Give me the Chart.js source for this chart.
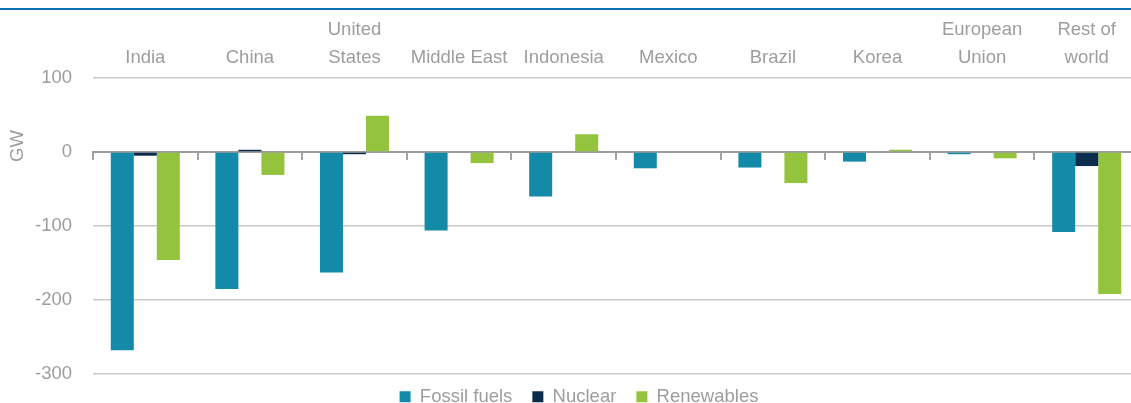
<!DOCTYPE html>
<html>
<head>
<meta charset="utf-8">
<script src="https://cdn.jsdelivr.net/npm/chart.js@4/dist/chart.umd.min.js"></script>
<style>
  html, body { margin: 0; padding: 0; background: #ffffff; overflow: hidden; }
  .rule { position: absolute; left: 0; top: 8px; width: 100%; height: 2px; background: #0f6fb7; }
  .wrap { position: absolute; left: 0; top: 0; width: 1158px; height: 416px; }
</style>
</head>
<body>
<div class="rule"></div>
<div class="wrap"><canvas id="chart" width="1158" height="416"></canvas></div>
<script>
// Change in installed capacity by region, GW
const categories = [
  ['India'], ['China'], ['United', 'States'], ['Middle East'], ['Indonesia'],
  ['Mexico'], ['Brazil'], ['Korea'], ['European', 'Union'], ['Rest of', 'world']
];
const fossilFuels = [-268, -185, -163, -106, -60, -22, -21, -13, -3, -108];
const nuclear     = [-5, 3, -3, 0, 0, 0, 0, 0, 0, -19];
const renewables  = [-146, -31, 49, -15, 24, -1, -42, 3, -8.5, -192];
const yTicks = { min: -300, max: 100, step: 100 };
const yTitle = 'GW';

const FONT = "'Liberation Sans', Arial, sans-serif";
const SIZE = 18.5;
const GREY = '#9d9d9d';

// Vertical "GW" label placed beside the upper part of the value axis
const axisLabel = {
  id: 'axisLabel',
  afterDraw(chart) {
    const ctx = chart.ctx;
    ctx.save();
    ctx.translate(18, chart.chartArea.top + 68);
    ctx.rotate(-Math.PI / 2);
    ctx.font = SIZE + 'px ' + FONT;
    ctx.fillStyle = GREY;
    ctx.textAlign = 'center';
    ctx.textBaseline = 'middle';
    ctx.fillText(yTitle, 0, 0);
    ctx.restore();
  }
};

new Chart(document.getElementById('chart'), {
  type: 'bar',
  data: {
    labels: categories,
    datasets: [
      { label: 'Fossil fuels', data: fossilFuels, backgroundColor: '#148aa9' },
      { label: 'Nuclear', data: nuclear, backgroundColor: '#0b2c4d' },
      { label: 'Renewables', data: renewables, backgroundColor: '#94c43d' }
    ]
  },
  options: {
    responsive: false,
    animation: false,
    devicePixelRatio: 1,
    layout: { padding: { top: 10, left: 0, right: 0, bottom: 0 } },
    datasets: { bar: { categoryPercentage: 0.66, barPercentage: 1.0 } },
    scales: {
      x: {
        type: 'category',
        position: 'top',
        offset: true,
        grid: { display: false, drawTicks: false, offset: true },
        border: { display: false },
        ticks: {
          color: GREY,
          font: { family: FONT, size: SIZE, lineHeight: 28 / SIZE },
          padding: 6,
          maxRotation: 0,
          autoSkip: false
        }
      },
      xZero: {
        type: 'category',
        axis: 'x',
        labels: categories,
        position: { y: 0 },
        offset: true,
        grid: {
          offset: true,
          drawOnChartArea: false,
          drawTicks: true,
          tickLength: 7,
          color: '#a3a3a3',
          lineWidth: 2
        },
        border: { display: true, color: '#9c9c9c', width: 2 },
        ticks: { display: false }
      },
      y: {
        min: yTicks.min,
        max: yTicks.max,
        position: 'left',
        afterFit(scale) { scale.width = 93; },
        grid: { color: '#c9c9c9', lineWidth: 1.5, drawTicks: false },
        border: { display: false },
        ticks: {
          stepSize: yTicks.step,
          color: GREY,
          font: { family: FONT, size: SIZE },
          padding: 21
        }
      },
      yRight: {
        type: 'linear',
        position: 'right',
        afterFit(scale) { scale.width = 19; },
        grid: { display: false, drawTicks: false },
        border: { display: false },
        ticks: { display: false }
      }
    },
    plugins: {
      tooltip: { enabled: false },
      legend: {
        position: 'bottom',
        title: { display: true, text: '', font: { size: 10, lineHeight: 1 }, padding: { top: 0, bottom: -16.5 } },
        labels: {
          boxWidth: 11,
          boxHeight: 11,
          padding: 20,
          color: GREY,
          font: { family: FONT, size: SIZE }
        }
      }
    }
  },
  plugins: [axisLabel]
});
</script>
</body>
</html>
